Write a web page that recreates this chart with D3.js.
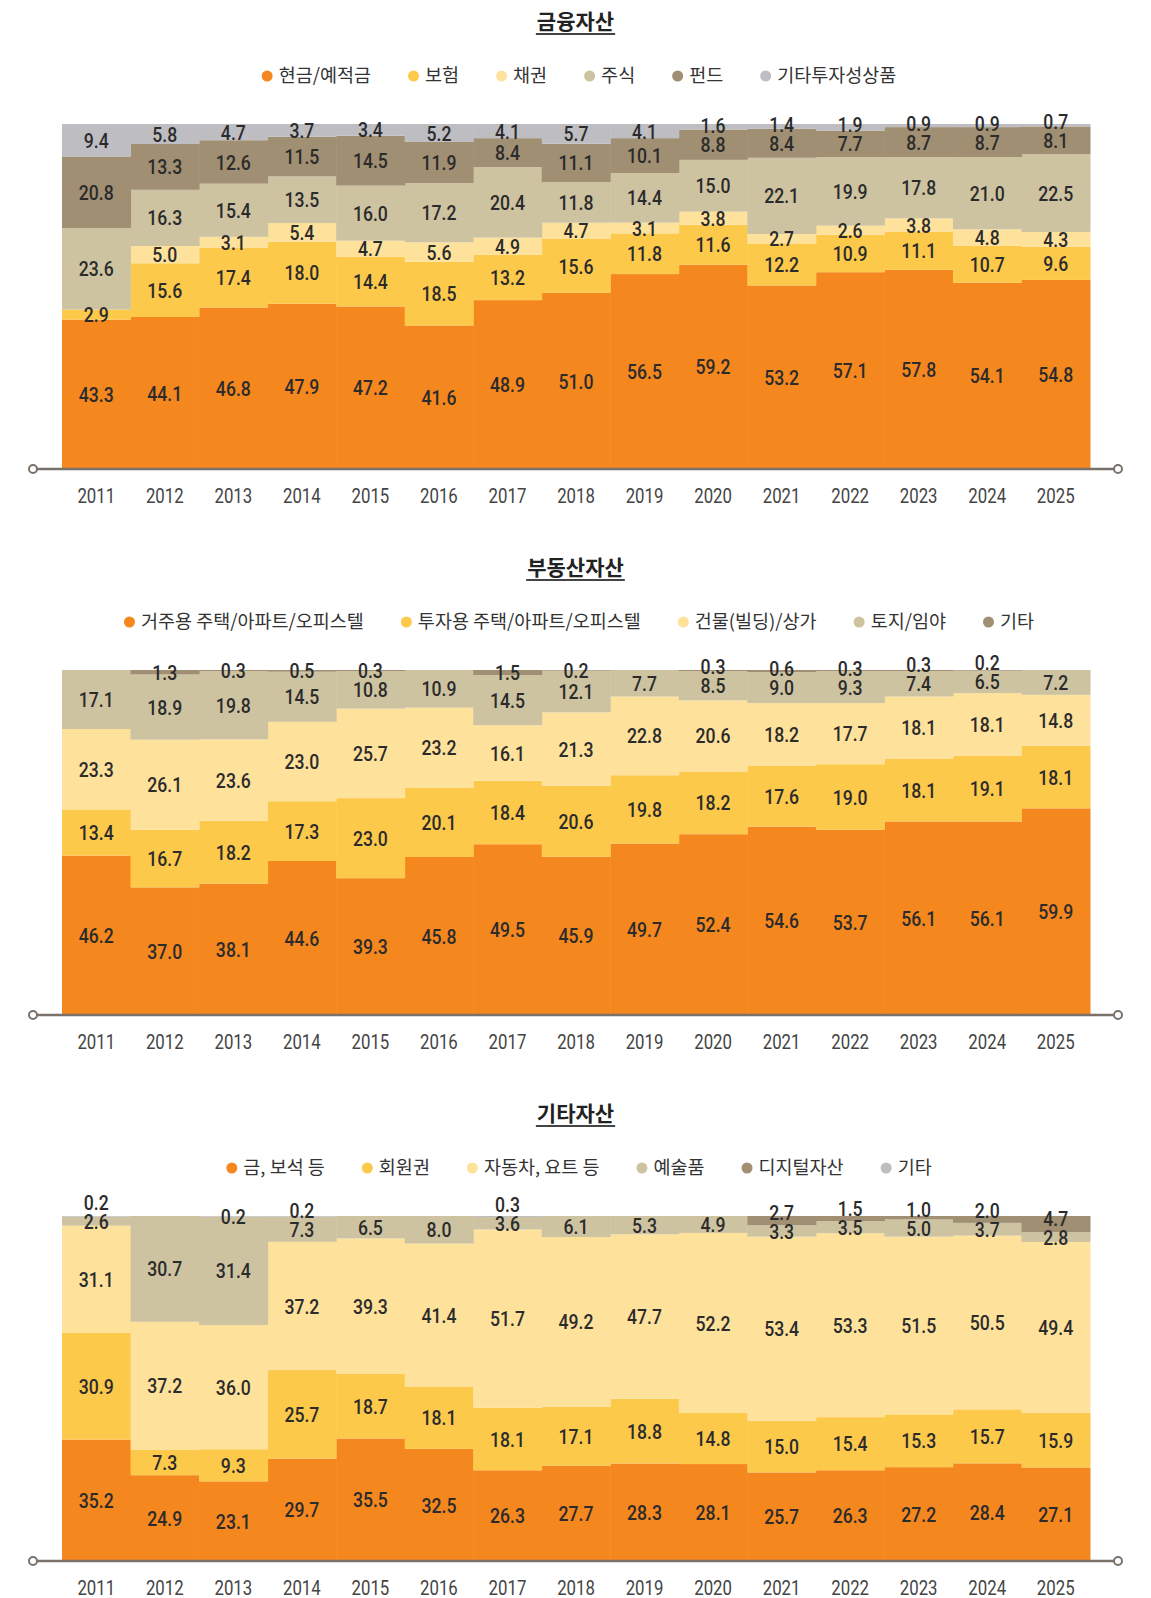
<!DOCTYPE html>
<html>
<head>
<meta charset="utf-8">
<script src="https://cdn.jsdelivr.net/npm/d3@7"></script>
<style>
  body { margin: 0; background: #fff; }
  svg { display: block; }
  .num { font-family: Roboto, "Noto Sans", sans-serif; font-weight: 500; fill: #2b2b2b; }
  .year { font-family: Roboto, "Noto Sans", sans-serif; font-weight: 400; fill: #444; }
  .ttl { font-family: "Noto Sans CJK KR", "Noto Sans", sans-serif; font-weight: 700; fill: #222; }
  .leg { font-family: "Noto Sans CJK KR", "Noto Sans", sans-serif; font-weight: 400; fill: #333; }
</style>
</head>
<body>
<div class="chart"></div>
<script>
let width = 1151,
    height = 1598;

const years = ['2011','2012','2013','2014','2015','2016','2017','2018','2019','2020','2021','2022','2023','2024','2025'];

// colours shared by all three panels, bottom to top
const colors = ['#f5871f', '#fdc94b', '#fee19b', '#cec3a1', '#a08f72', '#bebec2'];

// 금융자산
const finNames = ['현금/예적금', '보험', '채권', '주식', '펀드', '기타투자성상품'];
const finCash   = [43.3, 44.1, 46.8, 47.9, 47.2, 41.6, 48.9, 51.0, 56.5, 59.2, 53.2, 57.1, 57.8, 54.1, 54.8];
const finIns    = [2.9, 15.6, 17.4, 18.0, 14.4, 18.5, 13.2, 15.6, 11.8, 11.6, 12.2, 10.9, 11.1, 10.7, 9.6];
const finBond   = [0, 5.0, 3.1, 5.4, 4.7, 5.6, 4.9, 4.7, 3.1, 3.8, 2.7, 2.6, 3.8, 4.8, 4.3];
const finStock  = [23.6, 16.3, 15.4, 13.5, 16.0, 17.2, 20.4, 11.8, 14.4, 15.0, 22.1, 19.9, 17.8, 21.0, 22.5];
const finFund   = [20.8, 13.3, 12.6, 11.5, 14.5, 11.9, 8.4, 11.1, 10.1, 8.8, 8.4, 7.7, 8.7, 8.7, 8.1];
const finOther  = [9.4, 5.8, 4.7, 3.7, 3.4, 5.2, 4.1, 5.7, 4.1, 1.6, 1.4, 1.9, 0.9, 0.9, 0.7];

// 부동산자산
const reNames = ['거주용 주택/아파트/오피스텔', '투자용 주택/아파트/오피스텔', '건물(빌딩)/상가', '토지/임야', '기타'];
const reHome   = [46.2, 37.0, 38.1, 44.6, 39.3, 45.8, 49.5, 45.9, 49.7, 52.4, 54.6, 53.7, 56.1, 56.1, 59.9];
const reInvest = [13.4, 16.7, 18.2, 17.3, 23.0, 20.1, 18.4, 20.6, 19.8, 18.2, 17.6, 19.0, 18.1, 19.1, 18.1];
const reBldg   = [23.3, 26.1, 23.6, 23.0, 25.7, 23.2, 16.1, 21.3, 22.8, 20.6, 18.2, 17.7, 18.1, 18.1, 14.8];
const reLand   = [17.1, 18.9, 19.8, 14.5, 10.8, 10.9, 14.5, 12.1, 7.7, 8.5, 9.0, 9.3, 7.4, 6.5, 7.2];
const reOther  = [0, 1.3, 0.3, 0.5, 0.3, 0, 1.5, 0.2, 0, 0.3, 0.6, 0.3, 0.3, 0.2, 0];

// 기타자산
const etcNames = ['금, 보석 등', '회원권', '자동차, 요트 등', '예술품', '디지털자산', '기타'];
const etcGold    = [35.2, 24.9, 23.1, 29.7, 35.5, 32.5, 26.3, 27.7, 28.3, 28.1, 25.7, 26.3, 27.2, 28.4, 27.1];
const etcMember  = [30.9, 7.3, 9.3, 25.7, 18.7, 18.1, 18.1, 17.1, 18.8, 14.8, 15.0, 15.4, 15.3, 15.7, 15.9];
const etcCar     = [31.1, 37.2, 36.0, 37.2, 39.3, 41.4, 51.7, 49.2, 47.7, 52.2, 53.4, 53.3, 51.5, 50.5, 49.4];
const etcArt     = [2.6, 30.7, 31.4, 7.3, 6.5, 8.0, 3.6, 6.1, 5.3, 4.9, 3.3, 3.5, 5.0, 3.7, 2.8];
const etcDigital = [0, 0, 0, 0, 0, 0, 0, 0, 0, 0, 2.7, 1.5, 1.0, 2.0, 4.7];
const etcOther   = [0.2, 0, 0.2, 0.2, 0, 0, 0.3, 0, 0, 0, 0, 0, 0, 0, 0];

const panels = [
  { title: '금융자산', names: finNames, series: [finCash, finIns, finBond, finStock, finFund, finOther] },
  { title: '부동산자산', names: reNames, series: [reHome, reInvest, reBldg, reLand, reOther] },
  { title: '기타자산', names: etcNames, series: [etcGold, etcMember, etcCar, etcArt, etcDigital, etcOther] }
];

const svg = d3.select('.chart').append('svg')
    .attr('width', width)
    .attr('height', height);

const left = 62, right = 1090;
const plotH = 345;
const x = d3.scaleBand().domain(years).range([left, right]).padding(0);

panels.forEach((p, pi) => {
  const top = 124 + pi * 546;
  const g = svg.append('g');

  const y = d3.scaleLinear().domain([0, 1]).range([top + plotH, top]);

  // table rows: one per year
  const keys = p.names;
  const rows = years.map((yr, i) => {
    const r = { year: yr };
    keys.forEach((k, j) => r[k] = p.series[j][i]);
    return r;
  });
  const stack = d3.stack().keys(keys).offset(d3.stackOffsetExpand)(rows);

  // columns
  stack.forEach((layer, j) => {
    g.append('g').selectAll('rect')
      .data(layer)
      .join('rect')
      .attr('x', d => x(d.data.year))
      .attr('width', x.bandwidth() + 0.5)
      .attr('y', d => y(d[1]))
      .attr('height', d => Math.max(0, y(d[0]) - y(d[1])))
      .attr('fill', colors[j]);
  });

  // labels: segment centres, nudge upper labels up when crowded
  const gap = 19;
  years.forEach((yr, i) => {
    let labs = [];
    stack.forEach((layer, j) => {
      const v = p.series[j][i];
      if (v > 0) {
        const d = layer[i];
        labs.push({ v: v, x: x(yr) + x.bandwidth() / 2, y: (y(d[0]) + y(d[1])) / 2 });
      }
    });
    for (let k = 1; k < labs.length; k++) {
      if (labs[k].y > labs[k - 1].y - gap) labs[k].y = labs[k - 1].y - gap;
    }
    g.selectAll(null)
      .data(labs)
      .join('text')
      .attr('class', 'num')
      .attr('transform', d => `translate(${d.x},${d.y}) scale(0.84,1)`)
      .attr('text-anchor', 'middle')
      .attr('dy', '0.36em')
      .style('font-size', '21px')
      .text(d => d3.format('.1f')(d.v));
  });

  // axis line with hollow ends
  const axisY = top + plotH;
  g.append('line')
    .attr('x1', 33).attr('x2', 1118)
    .attr('y1', axisY).attr('y2', axisY)
    .attr('stroke', '#7a7169')
    .attr('stroke-width', 2.5);
  g.selectAll('circle.end')
    .data([33, 1118])
    .join('circle')
    .attr('class', 'end')
    .attr('cx', d => d).attr('cy', axisY).attr('r', 4)
    .attr('fill', '#fff').attr('stroke', '#7a7169').attr('stroke-width', 2);

  g.selectAll('text.year')
    .data(years)
    .join('text')
    .attr('class', 'year')
    .attr('transform', d => `translate(${x(d) + x.bandwidth() / 2},${axisY + 26}) scale(0.8,1)`)
    .attr('text-anchor', 'middle')
    .attr('dy', '0.36em')
    .style('font-size', '21px')
    .text(d => d);

  // title with underline
  const t = g.append('text')
    .attr('class', 'ttl')
    .attr('x', width / 2)
    .attr('y', top - 103)
    .attr('dy', '0.36em')
    .attr('text-anchor', 'middle')
    .style('font-size', '21px')
    .text(p.title);
  const tw = t.node().getComputedTextLength();
  g.append('line')
    .attr('x1', width / 2 - tw / 2 - 1).attr('x2', width / 2 + tw / 2 + 1)
    .attr('y1', top - 90).attr('y2', top - 90)
    .attr('stroke', '#444').attr('stroke-width', 2);

  // legend, centred
  const leg = g.append('g');
  let cx = 0;
  const legGap = 37;
  keys.forEach((k, j) => {
    const it = leg.append('g').attr('transform', `translate(${cx},0)`);
    it.append('circle').attr('r', 5.5).attr('cx', 5.5).attr('fill', colors[j]);
    const tx = it.append('text')
      .attr('class', 'leg')
      .attr('x', 17)
      .attr('dy', '0.35em')
      .style('font-size', '18.5px')
      .text(k);
    cx += 17 + tx.node().getComputedTextLength() + legGap;
  });
  const legW = cx - legGap;
  leg.attr('transform', `translate(${579 - legW / 2},${top - 48})`);
});
</script>
</body>
</html>
